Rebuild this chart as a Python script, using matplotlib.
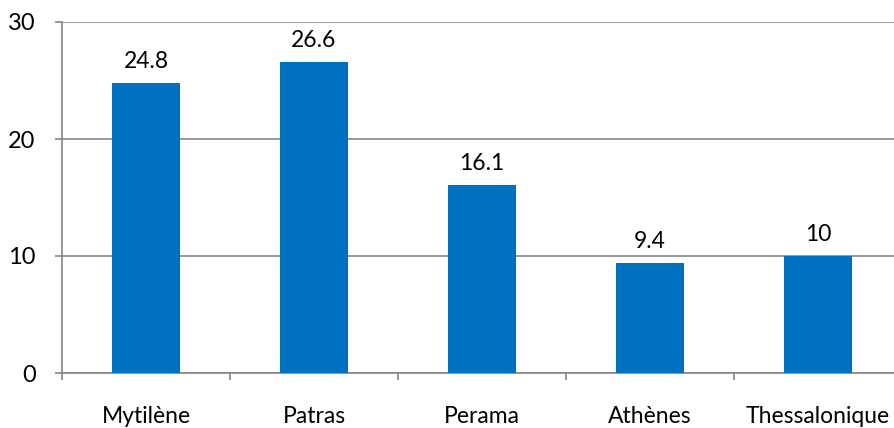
import matplotlib
matplotlib.use("Agg")
import matplotlib.pyplot as plt
from matplotlib.ticker import FixedLocator, NullFormatter

categories = ["Mytilène", "Patras", "Perama", "Athènes", "Thessalonique"]
values = [24.8, 26.6, 16.1, 9.4, 10]
yticks = [0, 10, 20, 30]

plt.rcParams['font.family'] = ['Lato', 'DejaVu Sans']
fig = plt.figure(figsize=(8.94, 4.28), dpi=100)
ax = fig.add_axes([62/894, 55/428, 840/894, 351/428])

grid_c = "#868686"
x = list(range(len(categories)))
ax.bar(x, values, width=0.4, color="#0070C0", zorder=3)
for xi, v in zip(x, values):
    ax.annotate(f"{v:g}", (xi, v), xytext=(0, 8), textcoords="offset points",
                ha="center", va="bottom", fontsize=16.5, color="#000000")

ax.set_xlim(-0.5, len(categories) - 0.5)
ax.set_ylim(0, 30)
ax.set_yticks(yticks)
ax.yaxis.grid(True, color=grid_c, linewidth=1.2, zorder=0)
ax.set_axisbelow(True)

ax.set_xticks(x)
ax.set_xticklabels(categories, fontsize=16.5)
ax.tick_params(axis="x", which="major", length=0, pad=24)
ax.xaxis.set_minor_locator(FixedLocator([i - 0.5 for i in range(len(categories) + 1)]))
ax.xaxis.set_minor_formatter(NullFormatter())
ax.tick_params(axis="x", which="minor", length=5, width=1.2, color=grid_c, direction="out")
ax.tick_params(axis="y", length=5, width=1.2, color=grid_c, labelsize=17, pad=14)

for s in ["top", "right"]:
    ax.spines[s].set_visible(False)
for s in ["left", "bottom"]:
    ax.spines[s].set_color(grid_c)
    ax.spines[s].set_linewidth(1.2)

fig.savefig("out.png", dpi=100)
